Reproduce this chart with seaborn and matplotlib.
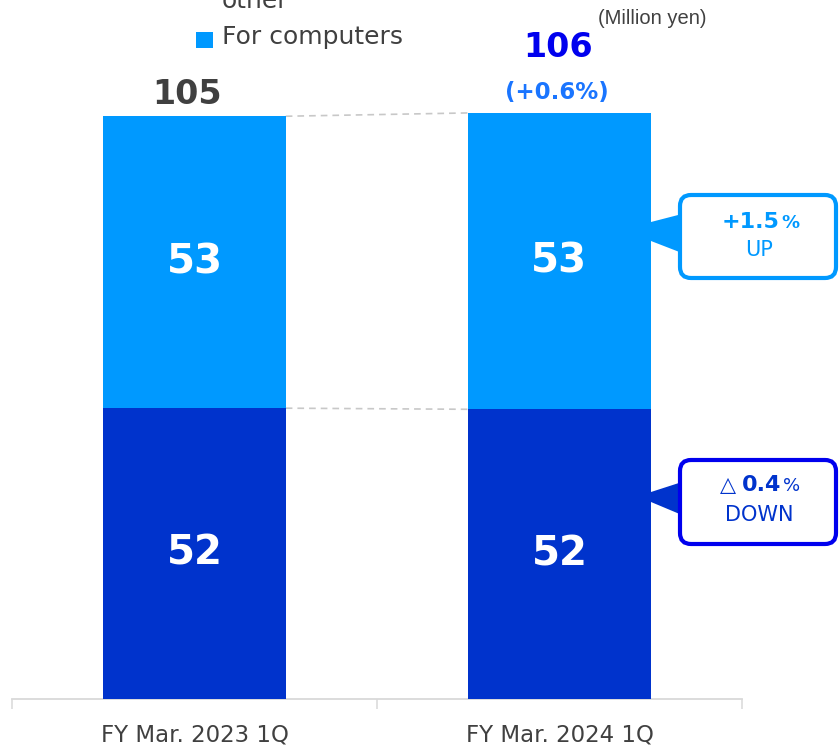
import matplotlib
matplotlib.use("Agg")
import matplotlib.pyplot as plt
import matplotlib.transforms as mtransforms
from matplotlib.patches import FancyBboxPatch, Polygon, Rectangle
import seaborn as sns
import pandas as pd

# Sales by product line (million yen)
periods = ["FY Mar. 2023 1Q", "FY Mar. 2024 1Q"]
other_sales = [52.4, 52.2]        # lower segment
computer_sales = [52.6, 53.4]     # upper segment ("For computers")
change_computers = "+1.5"
change_other = "0.4"

totals = [o + c for o, c in zip(other_sales, computer_sales)]
total_change = (totals[1] / totals[0] - 1) * 100

LIGHT = "#0099FF"
DARK = "#0033CC"
GRAY = "#404040"
W, H = 839, 746

sns.set_theme(style="white")
plt.rcParams["font.family"] = ["DejaVu Sans"]

fig = plt.figure(figsize=(W / 100, H / 100), dpi=100)
ax = fig.add_axes([12 / W, 47 / H, 730 / W, 666 / H])

df = pd.DataFrame({"period": periods, "other": other_sales,
                   "computers": computer_sales, "total": totals})

# stacked bars: full height first, lower segment drawn over it
sns.barplot(data=df, x="period", y="total", color=LIGHT, width=0.5,
            saturation=1, ax=ax, zorder=3, linewidth=0)
sns.barplot(data=df, x="period", y="other", color=DARK, width=0.5,
            saturation=1, ax=ax, zorder=3, linewidth=0)

ax.set_xlim(-0.5, 1.5)
ax.set_ylim(0, 120)
ax.set_xlabel("")
ax.set_ylabel("")
ax.set_yticks([])
for s in ["top", "left", "right"]:
    ax.spines[s].set_visible(False)
ax.spines["bottom"].set_color("#d9d9d9")
ax.spines["bottom"].set_linewidth(1.3)
ax.set_xticks([-0.5, 0.5, 1.5], minor=True)
ax.tick_params(axis="x", which="minor", length=7.5, width=1.1,
               color="#d9d9d9", direction="out", bottom=True)
ax.tick_params(axis="x", which="major", length=0, pad=18,
               labelsize=16.5, labelcolor=GRAY)
ax.grid(False)

# dashed connectors between the bars
for lvl0, lvl1 in [(totals[0], totals[1]), (other_sales[0], other_sales[1])]:
    ax.plot([0.25, 0.75], [lvl0, lvl1], color="#c8c8c8", lw=1.2,
            ls=(0, (4, 3)), zorder=2)

# segment value labels
for i in range(2):
    ax.text(i, other_sales[i] / 2, f"{other_sales[i]:.0f}", ha="center",
            va="center", color="white", fontsize=29, fontweight="bold", zorder=4)
    ax.text(i, other_sales[i] + computer_sales[i] / 2, f"{computer_sales[i]:.0f}",
            ha="center", va="center", color="white", fontsize=29,
            fontweight="bold", zorder=4)

# totals above the bars (offsets in points)
ax.annotate(f"{totals[0]:.0f}", (0, totals[0]), xytext=(-5, 16),
            textcoords="offset points", ha="center", va="center",
            color=GRAY, fontsize=24, fontweight="bold", annotation_clip=False)
ax.annotate(f"{totals[1]:.0f}", (1, totals[1]), xytext=(-1, 47),
            textcoords="offset points", ha="center", va="center",
            color="#0000EE", fontsize=24, fontweight="bold",
            annotation_clip=False)
ax.annotate(f"(+{total_change:.1f}%)", (1, totals[1]), xytext=(-2, 15),
            textcoords="offset points", ha="center", va="center",
            color="#1A75FF", fontsize=16.5, fontweight="bold",
            annotation_clip=False)

# pixel coordinates measured from the top-left corner
px = mtransforms.Affine2D().scale(1, -1).translate(0, H)

fig.text(652 / W, 1 - 18 / H, "(Million yen)", ha="center", va="center",
         fontsize=14.5, color=GRAY, family=["Liberation Sans"])

# legend
fig.patches.append(Rectangle((196, 32), 17, 16, transform=px,
                             facecolor=LIGHT, edgecolor="none"))
fig.text(222 / W, 1 - 37 / H, "For computers", ha="left", va="center",
         fontsize=18, color=GRAY)
fig.text(222 / W, 1 - 8 / H, "other", ha="left", va="baseline",
         fontsize=18, color=GRAY)


def callout(x0, y0, x1, y1, edge, ptr, fill_ptr):
    fig.patches.append(Polygon(ptr, closed=True, transform=px,
                               facecolor=fill_ptr, edgecolor="none", zorder=1))
    fig.patches.append(FancyBboxPatch((x0, y0), x1 - x0, y1 - y0,
                                      boxstyle="round,pad=0,rounding_size=11",
                                      transform=px, facecolor="white",
                                      edgecolor=edge, linewidth=3, zorder=2))


callout(680, 195, 836, 278, LIGHT,
        [(651, 222), (682, 214), (682, 253), (651, 241)], LIGHT)
callout(680, 460, 836, 544, "#0000EE",
        [(651, 492), (682, 482), (682, 515), (651, 502)], DARK)

fig.text(779 / W, 1 - 222 / H, change_computers, ha="right", va="center",
         fontsize=16, fontweight="bold", color=LIGHT, zorder=5)
fig.text(781 / W, 1 - 223 / H, "%", ha="left", va="center",
         fontsize=13, fontweight="bold", color=LIGHT, zorder=5)
fig.text(759 / W, 1 - 250 / H, "UP", ha="center", va="center",
         fontsize=15, color=LIGHT, zorder=5)

fig.text(736 / W, 1 - 485 / H, "△", ha="right", va="center",
         fontsize=15, color=DARK, zorder=5)
fig.text(781 / W, 1 - 485 / H, change_other, ha="right", va="center",
         fontsize=16, fontweight="bold", color=DARK, zorder=5)
fig.text(783 / W, 1 - 486 / H, "%", ha="left", va="center",
         fontsize=13, color=DARK, zorder=5)
fig.text(759 / W, 1 - 515 / H, "DOWN", ha="center", va="center",
         fontsize=15, color=DARK, zorder=5)

fig.savefig("out.png", dpi=100)
